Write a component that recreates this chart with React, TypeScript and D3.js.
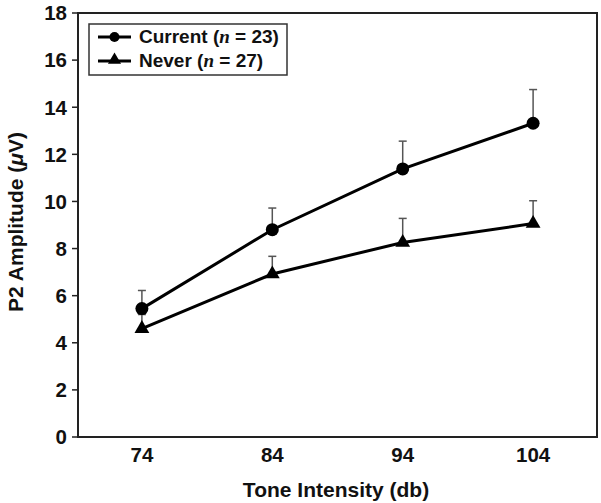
import React from "react";
import * as d3 from "d3";

const categories = ["74", "84", "94", "104"];
const currentMean = [5.45, 8.8, 11.38, 13.32];
const currentErr = [0.77, 0.92, 1.18, 1.43];
const neverMean = [4.6, 6.92, 8.26, 9.06];
const neverErr = [0.6, 0.75, 1.02, 0.97];
const yTicks = [0, 2, 4, 6, 8, 10, 12, 14, 16, 18];

const W = 601;
const H = 503;
const L = 78, R = 597, T = 13, B = 437;
const FONT = "'Liberation Sans', Arial, sans-serif";

export default function App() {
  const x = d3.scalePoint<string>().domain(categories).range([L, R]).padding(0.49);
  const y = d3.scaleLinear().domain([0, 18]).range([B, T]);
  const line = d3.line<number>().x((_, i) => x(categories[i])!).y((d) => y(d));
  const tri = d3.symbol().type(d3.symbolTriangle).size(95)();

  const errBars = (means: number[], errs: number[], key: string) =>
    means.map((m, i) => {
      const cx = x(categories[i])!;
      return (
        <g key={key + i}>
          <line x1={cx} x2={cx} y1={y(m)} y2={y(m + errs[i])} stroke="#555" strokeWidth={1.5} />
          <line x1={cx - 4} x2={cx + 4} y1={y(m + errs[i])} y2={y(m + errs[i])} stroke="#555" strokeWidth={1.5} />
        </g>
      );
    });

  return (
    <svg width={W} height={H} style={{ position: "absolute", left: 0, top: 0, background: "#fff" }} fontFamily={FONT}>
      <rect x={0} y={0} width={W} height={H} fill="#fff" />
      <rect x={L} y={T} width={R - L} height={B - T} fill="none" stroke="#222" strokeWidth={2} />
      {yTicks.map((t) => (
        <g key={t}>
          <line x1={L - 6} x2={L} y1={y(t)} y2={y(t)} stroke="#222" strokeWidth={1.5} />
          <text x={L - 11} y={y(t)} dy="0.36em" textAnchor="end" fontSize={20.5} fontWeight="bold" fill="#111">{t}</text>
        </g>
      ))}
      {categories.map((c) => (
        <text key={c} x={x(c)!} y={462} textAnchor="middle" fontSize={20.5} fontWeight="bold" fill="#111">{c}</text>
      ))}
      <text x={336} y={497} textAnchor="middle" fontSize={21} fontWeight="bold" fill="#111">Tone Intensity (db)</text>
      <text transform={`translate(23,${222}) rotate(-90)`} textAnchor="middle" fontSize={21} fontWeight="bold" fill="#111">
        P2 Amplitude (<tspan fontStyle="italic">μ</tspan>V)
      </text>

      {errBars(currentMean, currentErr, "c")}
      {errBars(neverMean, neverErr, "n")}
      <path d={line(currentMean)!} fill="none" stroke="#000" strokeWidth={3} />
      <path d={line(neverMean)!} fill="none" stroke="#000" strokeWidth={3} />
      {currentMean.map((m, i) => (
        <circle key={"cc" + i} cx={x(categories[i])!} cy={y(m)} r={6.5} fill="#000" />
      ))}
      {neverMean.map((m, i) => (
        <path key={"nt" + i} d={tri!} transform={`translate(${x(categories[i])!},${y(m)})`} fill="#000" />
      ))}

      <rect x={89} y={24} width={198} height={51} fill="#fff" stroke="#333" strokeWidth={1.5} />
      <line x1={98} x2={131} y1={37} y2={37} stroke="#000" strokeWidth={3} />
      <circle cx={114.5} cy={37} r={5} fill="#000" />
      <text x={139} y={43} fontSize={19} fontWeight="bold" fill="#111">
        Current (<tspan fontStyle="italic" fontFamily="'Liberation Serif', serif">n</tspan> = 23)
      </text>
      <line x1={98} x2={131} y1={61} y2={61} stroke="#000" strokeWidth={3} />
      <path d={d3.symbol().type(d3.symbolTriangle).size(75)()!} transform="translate(114.5,60)" fill="#000" />
      <text x={139} y={67} fontSize={19} fontWeight="bold" fill="#111">
        Never (<tspan fontStyle="italic" fontFamily="'Liberation Serif', serif">n</tspan> = 27)
      </text>
    </svg>
  );
}
